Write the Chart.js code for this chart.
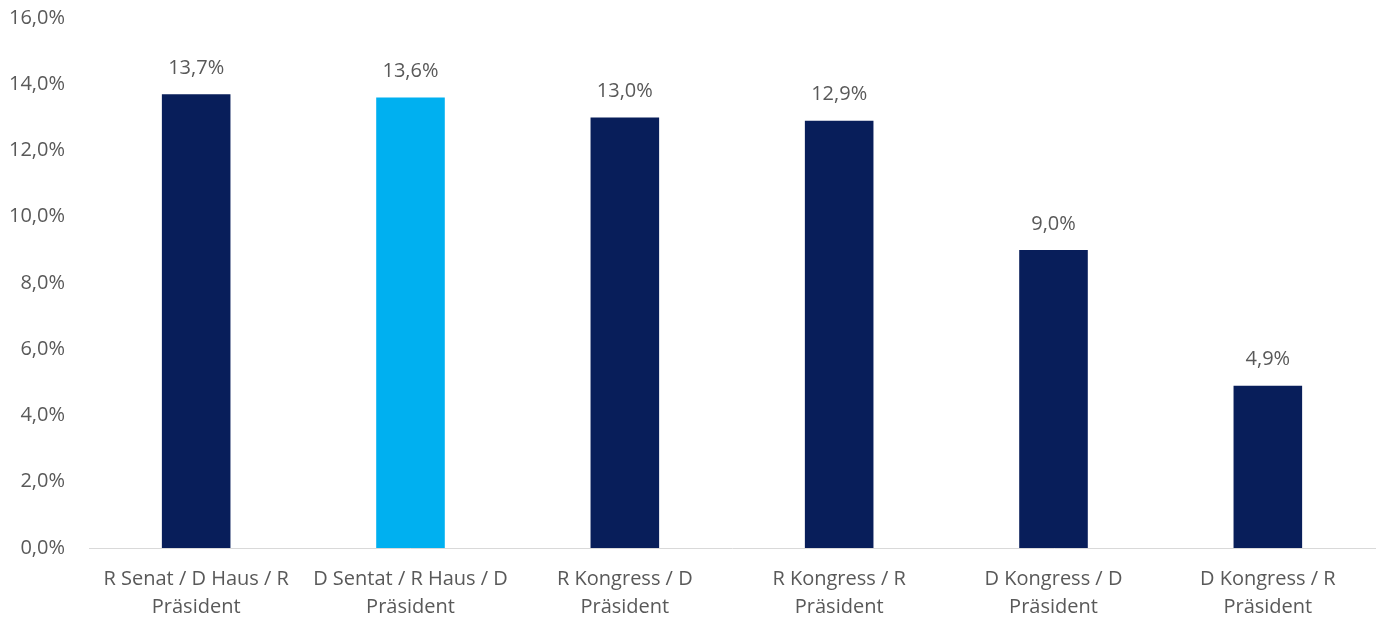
<!DOCTYPE html>
<html>
<head>
<meta charset="utf-8">
<script src="https://cdn.jsdelivr.net/npm/chart.js@4/dist/chart.umd.min.js"></script>
<style>
html,body{margin:0;padding:0;background:#fff;}
#wrap{width:1378px;height:621px;}
</style>
</head>
<body>
<div id="wrap"><canvas id="c" width="1378" height="621"></canvas></div>
<script>
const categories = [
  ["R Senat / D Haus / R", "Präsident"],
  ["D Sentat / R Haus / D", "Präsident"],
  ["R Kongress / D", "Präsident"],
  ["R Kongress / R", "Präsident"],
  ["D Kongress / D", "Präsident"],
  ["D Kongress / R", "Präsident"]
];
const values = [13.7, 13.6, 13.0, 12.9, 9.0, 4.9];
const barColors = ["#081E5A", "#00B0F0", "#081E5A", "#081E5A", "#081E5A", "#081E5A"];
const yMin = 0, yMax = 16, yStep = 2;

const fmt = v => v.toFixed(1).replace('.', ',') + '%';
const FONT = "'Open Sans', Lato, sans-serif";
const TXT = "#595959";
const FS = 20;

const labelPlugin = {
  id: 'vlabels',
  afterDatasetsDraw(chart) {
    const ctx = chart.ctx;
    const meta = chart.getDatasetMeta(0);
    ctx.save();
    ctx.font = FS + "px " + FONT;
    ctx.fillStyle = TXT;
    ctx.textAlign = 'center';
    ctx.textBaseline = 'middle';
    meta.data.forEach((bar, i) => {
      ctx.fillText(fmt(values[i]), bar.x, bar.y - 26);
    });
    ctx.restore();
  }
};

new Chart(document.getElementById('c'), {
  type: 'bar',
  data: {
    labels: categories,
    datasets: [{
      data: values,
      backgroundColor: barColors,
      borderWidth: 0,
      categoryPercentage: 1.0,
      barPercentage: 0.32
    }]
  },
  options: {
    responsive: false,
    animation: false,
    layout: { padding: { top: 18, right: 3, left: 0, bottom: 0 } },
    plugins: { legend: { display: false }, tooltip: { enabled: false } },
    scales: {
      x: {
        grid: { display: false, drawTicks: false },
        border: { display: true, color: '#D9D9D9', width: 1 },
        ticks: {
          color: TXT,
          font: { family: FONT, size: FS, lineHeight: 1.4 },
          padding: 17,
          maxRotation: 0,
          autoSkip: false
        },
        afterFit(s) { s.height = 73; s.paddingLeft = 0; s.paddingRight = 0; }
      },
      y: {
        min: yMin, max: yMax,
        grid: { display: false, drawTicks: false },
        border: { display: false },
        ticks: {
          stepSize: yStep,
          color: TXT,
          font: { family: FONT, size: FS },
          padding: 24,
          callback: v => fmt(v)
        },
        afterFit(s) { s.width = 89; s.paddingTop = 0; s.paddingBottom = 0; }
      }
    }
  },
  plugins: [labelPlugin]
});
</script>
</body>
</html>
